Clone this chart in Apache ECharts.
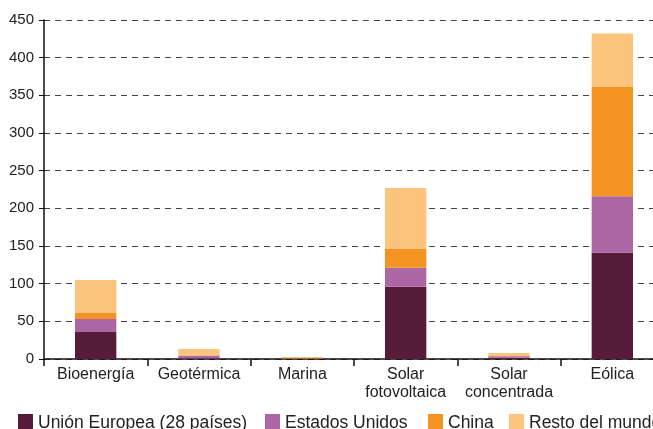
<!DOCTYPE html>
<html><head><meta charset="utf-8">
<script src="https://cdn.jsdelivr.net/npm/echarts@6/dist/echarts.min.js"></script>
<style>html,body{margin:0;padding:0;background:#fff}#c{width:653px;height:429px}</style>
</head><body><div id="c"></div>
<script>
const categories = ['Bioenergía', 'Geotérmica', 'Marina', 'Solar\nfotovoltaica', 'Solar\nconcentrada', 'Eólica'];
const seriesNames = ['Unión Europea (28 países)', 'Estados Unidos', 'China', 'Resto del mundo'];
const ue = [36, 1, 0.6, 96, 1.5, 141];
const eeuu = [17, 3.5, 0, 25, 2, 75];
const china = [8, 0.3, 0.8, 25, 0.5, 145];
const resto = [44, 8.5, 1.2, 81, 4, 71];
const yTicks = [0, 50, 100, 150, 200, 250, 300, 350, 400, 450];
const colors = ['#561c3a', '#ac66a4', '#f39422', '#fdc47d'];
const values = [ue, eeuu, china, resto];
const FONT = 'Liberation Sans, Arial, sans-serif';
const legendLefts = [18, 265, 428, 509];

const chart = echarts.init(document.getElementById('c'), null, {renderer: 'canvas'});
chart.setOption({
  animation: false,
  textStyle: {fontFamily: FONT},
  grid: {left: 44, top: 20, height: 339, width: 620, containLabel: false, outerBoundsMode: 'none'},
  legend: seriesNames.map((n, i) => ({
    left: legendLefts[i], top: 414, itemWidth: 15, itemHeight: 18, padding: 0,
    icon: 'rect',
    textStyle: {fontSize: 17.5, color: '#222', fontFamily: FONT},
    data: [n]
  })),
  xAxis: {
    type: 'category', data: categories,
    axisLine: {lineStyle: {color: '#111', width: 1.5}},
    axisTick: {show: true, length: 7, lineStyle: {color: '#111', width: 1.5}},
    axisLabel: {fontSize: 16, color: '#222', margin: 7, lineHeight: 18, interval: 0}
  },
  yAxis: {
    type: 'value', min: 0, max: 450, interval: 50,
    axisLine: {show: true, lineStyle: {color: '#111', width: 1.5}},
    axisTick: {show: true, length: 5, lineStyle: {color: '#111'}},
    axisLabel: {fontSize: 15, color: '#222', margin: 10,
      formatter: v => yTicks.includes(v) ? String(v) : ''},
    splitLine: {show: true, lineStyle: {color: '#444', type: [6, 5], width: 1}}
  },
  series: values.map((d, i) => ({
    name: seriesNames[i], type: 'bar', stack: 'total', data: d,
    barWidth: '40%',
    itemStyle: {color: colors[i]}
  }))
});
</script></body></html>
